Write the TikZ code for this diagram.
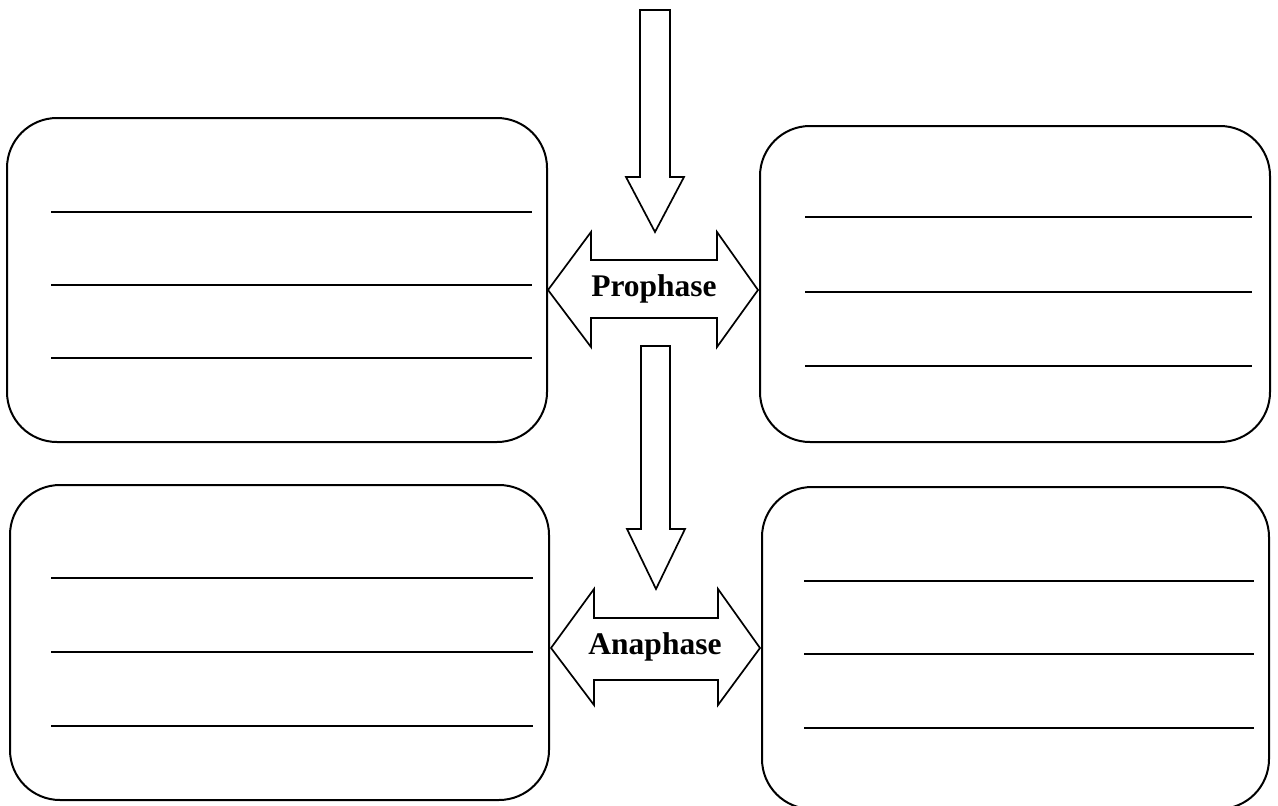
\documentclass[tikz,border=0pt]{standalone}
\usepackage{fontspec}
\setmainfont{Liberation Serif}
\begin{document}
\begin{tikzpicture}[x=1pt,y=-1pt,
  card/.style={draw=black,line width=2pt,rounded corners=50pt},
  rule/.style={draw=black,line width=1.7pt},
  blockarrow/.style={draw=black,line width=1.7pt,fill=white,line join=miter},
  phase/.style={font=\fontsize{31.5}{36}\selectfont\bfseries,inner sep=0pt}]
\useasboundingbox (0,0) rectangle (1278,806);
% boxes
\draw[card] (7,118) rectangle (547,442);
\draw[card] (760,126) rectangle (1270,442);
\draw[card] (10,485) rectangle (549,800);
\draw[card] (762,487) rectangle (1269,809);
% writing lines
\foreach \y in {212,285,358} \draw[rule] (51,\y) -- (532,\y);
\foreach \y in {217,292,366} \draw[rule] (805,\y) -- (1252,\y);
\foreach \y in {578,652,726} \draw[rule] (51,\y) -- (533,\y);
\foreach \y in {581,654,728} \draw[rule] (804,\y) -- (1254,\y);
% down arrows
\draw[blockarrow] (640,10) -- (670,10) -- (670,177) -- (684,177) -- (655,232) -- (626,177) -- (640,177) -- cycle;
\draw[blockarrow] (641,346) -- (670,346) -- (670,529) -- (685,529) -- (656,589) -- (627,529) -- (641,529) -- cycle;
% double arrows
\draw[blockarrow] (548,290) -- (591,232) -- (591,260) -- (717,260) -- (717,232) -- (758,290) -- (717,347) -- (717,318) -- (591,318) -- (591,347) -- cycle;
\draw[blockarrow] (551,648) -- (594,589) -- (594,618) -- (718,618) -- (718,589) -- (760,648) -- (718,705) -- (718,680) -- (594,680) -- (594,705) -- cycle;
\node[phase] (pro) at (654,289) {Prophase};
\node[phase] (ana) at (655,647) {Anaphase};
\end{tikzpicture}
\end{document}
